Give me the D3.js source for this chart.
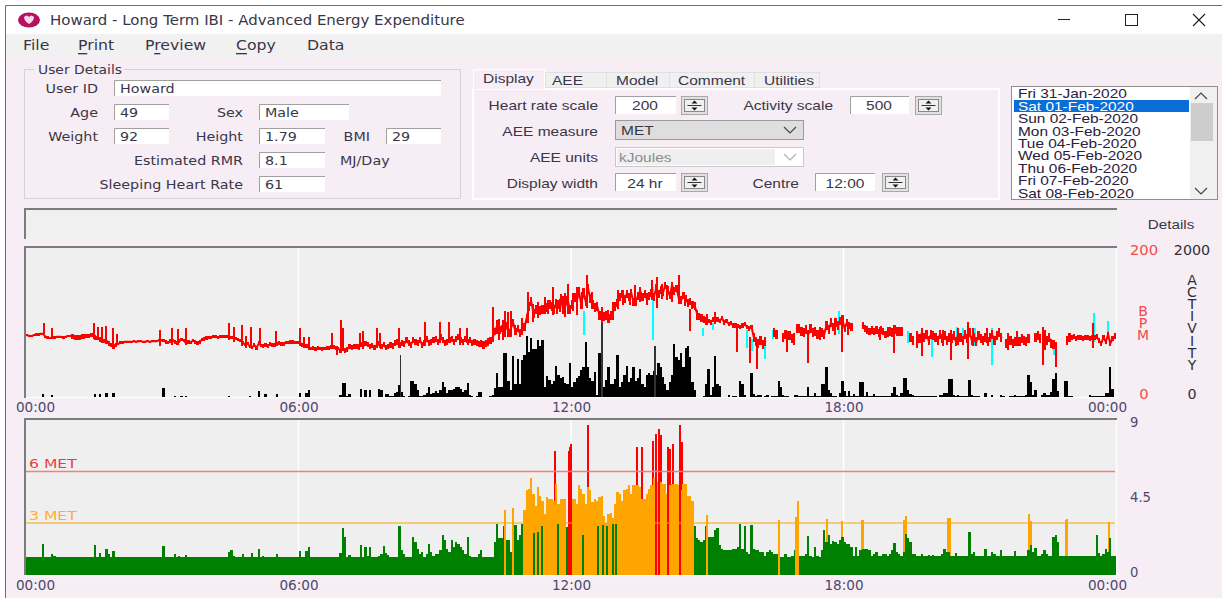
<!DOCTYPE html>
<html>
<head>
<meta charset="utf-8">
<style>
html, body { margin: 0; padding: 0; background: #fff; overflow: hidden; }
svg { display: block; }
</style>
<script src="https://cdn.jsdelivr.net/npm/d3@7"></script>
</head>
<body>
<div class="chart"></div>
<script>
// one value every 3 minutes, one row per hour
const hrValues = [
    83,82,82,83,84,84,85,85,81,80,79,80,80,81,81,81,80,81,82,82,
    81,80,80,80,81,81,82,82,83,83,80,79,77,76,75,74,72,70,68,70,
    71,73,73,74,74,74,74,75,74,75,75,74,74,75,74,75,75,75,76,76,
    76,74,73,75,76,74,72,75,77,76,72,74,73,76,74,72,74,77,78,79,
    80,80,81,81,80,81,81,81,81,81,80,80,78,77,76,73,70,72,68,66,
    70,66,72,69,68,70,68,71,70,70,71,72,71,71,73,73,74,74,73,73,
    74,70,68,68,66,65,66,64,66,65,64,65,66,66,67,67,66,65,62,64,
    62,64,68,66,68,68,67,70,68,72,70,68,69,66,70,72,68,70,66,68,
    70,68,72,74,70,72,71,76,72,70,76,74,72,76,70,72,78,72,74,76,
    78,74,80,76,72,74,76,78,74,78,80,76,74,78,74,76,72,74,72,71,
    72,70,72,74,76,80,88,96,90,92,88,96,86,92,100,88,92,86,88,94,
    106,122,128,112,118,112,116,118,122,120,124,122,118,126,124,132,118,122,130,118,
    124,134,128,142,124,140,128,146,132,124,120,122,110,106,108,110,106,110,116,122,
    126,134,138,132,138,134,140,128,128,136,142,134,138,130,136,140,134,146,138,144,
    140,150,144,136,150,142,146,132,130,136,132,126,128,124,122,112,108,106,104,102,
    102,100,104,102,104,102,106,100,102,98,99,96,96,95,94,96,98,94,92,94,
    80,74,72,76,70,74,null,null,null,86,84,null,null,80,84,82,82,78,null,92,
    92,88,86,90,84,92,86,88,84,88,86,84,96,90,100,94,100,96,102,104,
    92,100,96,94,null,null,null,null,96,92,90,88,90,88,90,86,90,88,84,88,
    88,86,90,88,88,88,null,null,null,80,76,null,80,78,86,80,84,76,84,82,
    80,76,84,78,82,76,80,78,82,74,84,80,76,84,78,86,76,80,74,82,
    78,76,80,74,80,84,76,82,86,80,null,72,72,76,72,74,78,74,78,76,
    74,78,null,null,80,82,78,null,84,76,80,72,70,null,null,null,null,null,76,80,
    80,81,79,80,80,79,80,80,79,80,80,81,76,72,80,74,84,72,78,82
];
// half thickness of the red band in bpm, one value per hour
const hrBand = [1.5,3,1.5,2.5,2,2.5,2.5,3.5,4,4,5,6,6,5.5,5,3,6,6,5,6,6,6,6,3.5];

// [minute, low bpm, high bpm]
const hrSpikes = [
    [24,84,99],[34,80,92],[90,78,100],[95,76,94],[100,76,94],[106,74,95],[115,68,92],[120,70,85],
    [177,68,90],[193,70,92],[201,70,91],[211,70,92],[268,76,99],[275,74,94],[285,68,96],[291,66,82],
    [297,66,94],[309,70,92],[330,72,89],[362,68,92],[367,66,81],[374,66,81],[404,66,86],[411,56,68],
    [416,62,103],[419,62,92],[441,70,86],[445,68,88],[464,66,92],[468,66,86],[493,70,92],[527,72,101],
    [547,72,101],[559,72,101],[573,70,92],[583,72,93],[617,74,121],[625,76,105],[630,76,104],[633,80,116],
    [641,80,116],[663,100,141],[670,101,125],[696,110,148],[712,107,140],[716,112,152],[728,110,148],
    [741,120,164],[834,120,161],[863,125,164],[877,89,118],[939,61,96],[956,45,80],[966,37,78],[1005,61,82],
    [1015,70,86],[1033,46,86],[1078,61,100],[1147,59,88],[1177,66,88],[1184,55,86],[1222,50,90],[1244,51,101],
    [1344,43,94],[1361,40,74],[1410,66,99],
    [622,84,103],[637,88,114],[646,86,97],[655,88,106],[676,108,128],[686,112,134],[690,112,130],[701,112,126],
    [705,114,132],[709,114,135],[723,116,139],[735,118,141],[748,124,141],[754,118,123],[761,104,121],[769,104,117],
    [775,104,128],[782,118,144],[789,124,144],[798,124,137],[805,128,150],[811,128,148],[820,124,139],[827,130,157],
    [840,132,152],[847,130,150],[853,128,146],[871,122,132],[880,118,128],[886,104,112],[900,96,112],[910,98,114],
    [1049,77,92],[1069,83,100],[1086,83,96],[1128,77,94],[1139,81,94],[1211,68,90],[1231,70,92],[1251,68,92],
    [1270,72,92],[1297,63,86],[1309,68,88],[1346,63,90]
];
const hrCyanSpikes = [
    [737,83,115],[828,77,148],[894,82,92],[908,90,100],[953,66,90],[959,62,78],[976,51,72],[987,78,90],
    [1074,84,115],[1165,72,88],[1197,54,80],[1230,74,94],[1238,72,92],[1254,68,92],[1276,43,92],
    [1358,56,72],[1411,74,113],[1429,78,102]
];

const activityValues = [
    0,0,0,0,0,0,0,45,0,0,0,25,0,0,0,0,0,0,0,0,
    0,0,0,0,0,0,0,0,0,0,45,0,45,0,0,55,0,0,55,0,
    0,0,0,0,0,0,0,0,0,0,0,0,0,0,0,0,0,0,0,0,
    120,0,0,0,0,18,0,0,18,0,18,0,0,0,0,0,0,0,0,0,
    0,0,0,0,0,0,0,0,0,18,0,0,0,0,0,0,0,0,18,0,
    0,0,80,0,0,35,0,0,0,0,35,0,0,0,0,0,0,0,0,0,
    55,0,0,55,90,0,0,0,0,0,0,0,0,0,0,0,0,0,25,190,
    190,15,35,0,0,0,0,110,0,95,0,90,0,0,0,110,90,0,35,35,
    15,20,60,70,155,65,20,0,20,220,220,180,90,20,20,25,60,130,40,50,
    85,50,90,200,130,60,95,100,105,130,130,110,70,90,190,30,15,0,10,65,
    65,0,0,0,20,25,120,320,130,140,590,590,220,90,545,180,515,180,490,560,
    820,600,790,650,640,760,680,760,130,280,230,180,215,410,290,260,270,190,170,450,
    130,200,250,280,360,400,740,400,250,220,330,30,590,590,130,230,400,170,180,240,
    560,130,200,290,410,200,250,400,210,250,380,180,130,300,320,300,350,300,455,400,
    270,180,100,200,300,715,540,500,590,400,660,680,540,200,100,0,0,0,20,170,
    380,30,130,550,170,150,0,0,0,25,0,10,15,0,220,170,30,0,0,320,
    40,10,30,30,0,10,30,5,20,20,20,220,130,30,20,15,0,0,30,30,
    10,20,15,15,130,10,10,50,15,20,180,180,400,90,50,15,10,0,60,210,
    80,20,75,20,35,20,15,205,195,20,65,20,15,35,10,15,15,15,20,20,
    20,60,140,30,20,50,260,250,90,40,25,15,10,15,20,20,20,15,15,10,
    15,0,25,30,50,55,245,245,30,15,25,10,10,15,10,230,30,20,20,10,
    0,0,50,5,5,30,5,5,5,30,10,5,5,10,10,25,10,10,10,15,
    30,300,200,30,90,5,5,30,60,30,30,70,245,320,80,5,0,215,215,10,
    10,0,0,0,0,0,0,0,25,20,20,20,20,20,20,60,60,400,110,5
];
const activityPeaks = [[494,570],[760,1040],[830,690]];

const metValues = [
    1,1,1,1,1,1,1,1.75,1,1,1,1.17,1.1,1,1,1,1,1,1,1,
    1,1,1,1,1,1,1,1,1,1,1.7,1,1.28,1,1,1.5,1.2,1,1.36,1,
    1,1,1,1,1,1,1,1,1,1,1,1,1,1,1,1,1,1,1,1,
    1.67,1,1,1,1,1.17,1,1.07,1,1,1.13,1,1,1,1,1,1,1,1,1,
    1,1,1,1,1,1,1,1,1,1.3,1.42,1.1,1,1,1,1.2,1,1,1,1.28,
    1,1,1.5,1,1.07,1,1,1,1,1,1.2,1,1,1,1,1,1,1,1,1,
    1.36,1,1,1.36,1.6,1,1,1,1,1,1,1,1,1,1,1,1,1,1.28,2.68,
    2.2,1,1.13,1,1,1,1,1.7,1,1.6,1.1,1.6,1,1,1,1.1,1.2,1.67,1.28,1.13,
    1,1,1,1,2.8,1.42,1.2,1.03,1,1,2.2,1.9,1.5,1.2,1.3,1,1.2,1.8,1.3,1.1,
    1.2,1.2,1.4,2.3,2,1.5,1.3,2,1.6,1.9,1.8,1.6,1.4,1.2,2.2,1.1,1,1,1,1.2,
    1.4,1,1,1,1,1,1.9,2.95,2.1,2.1,2.8,2,2,1.3,2.2,2.87,2,2.3,2.95,3.75,
    4.9,5,5.6,4.7,4,5.1,4.6,4.3,3.5,4.5,4.4,4.4,4.3,5.3,4.1,4.4,4.4,4.4,2.75,4.4,
    4.4,4.4,4.1,5.2,5,4.7,4.1,5.1,4.9,4.2,4.4,4.3,4.5,4.6,3.4,3,3.5,3.6,3.3,4.1,
    4.8,4.7,4.3,4.9,5,5.2,4.7,5.2,5.2,5.2,5.1,4.4,4.4,4.7,5,5.2,5.6,5.5,5.4,5.4,
    5.3,5.3,4.7,5.2,5.3,5.3,5.3,5.2,4.9,5.3,5.3,4.6,4.6,4.3,2.8,2.1,2,1.9,2,2.8,
    2.2,2.2,2.2,2.6,2.7,1.7,1.5,1.4,1.4,1.4,1.4,1.5,1.5,1.6,2.95,1.5,2.8,1.3,1.2,2.9,
    1.5,1.4,1.4,1.3,1.3,1.1,1.3,1.4,1.3,1.2,1.2,1.1,1,1,1.2,1,1,1.1,1.4,1.8,
    1.1,1.05,1.1,1.2,2.25,1.05,1,1.6,1.05,1,1.4,2.6,1.9,2.3,1.8,1.95,1.9,1.8,2,2.2,
    1.9,1.8,1.8,1.6,1.05,1.6,1.05,1.4,1.5,1.5,1.5,1.4,1.1,1.2,1.3,1.1,1.05,1.2,1.2,1.05,
    1.2,1.4,1.85,1.3,1.2,1.05,1.3,2.35,2.1,1.9,1.2,1.2,1.1,1.05,1.2,1.05,1.1,1.15,1.05,1.15,
    1.05,1.05,1.1,1.2,1.5,1.3,1.3,1.05,1.05,1.25,1.05,1.1,1.1,1.1,1.05,2.45,1.2,1.3,1.1,1.05,
    1.05,1.05,1.48,1.05,1.05,1.3,1.2,1.05,1.05,1.4,1.1,1.05,1.05,1.1,1.05,1.35,1.05,1.1,1.1,1.1,
    1.1,1.4,1.7,1.3,1.55,1.05,1.05,1.2,1.4,1.2,1.1,1.05,2.2,2.3,1.9,1.1,1.05,1.05,1.1,1.05,
    1.1,1.05,1.05,1.05,1.05,1.05,1.05,1.05,1.1,1.05,1.05,2.3,1.25,1.05,1.2,1.5,1.3,2.15,1.1,1.05
];

// thin samples hidden behind the bars, only the part above shows
const metPeaksBehind = [
    [697,7.2],[741,8.7],[741,6],[806,7.4],[813,7.4],[827,7.8],[838,8.1],[847,7.4],[850,7.3],[853,7.6],[865,7.7],
    [1057,3.26],[1077,3.1],[1103,3.2],[1104,3.15],[1159,3.2],[1161,3.38],[1217,3.3],[1219,3.3],
    [1324,3.5],[1326,3.1],[1373,3.17],[1374,3.26],[1429,3.03]
];
// thin samples drawn over the bars, full height
const metPeaksFront = [
    [670,2.4],[675,2.5],[680,2.85],[701,2.95],[714,2.75],[735,2.3],[754,2.8],[761,2.9],[766,2.8],[774,2.95],[778,2.95],
    [632,3.75],[642,3.9],[899,3.46],[994,3.2],[1016,3.36],[1018,4.3],
    [716,7.2],[718,7.4],[719,7.6],[831,8.2],[835,8.5],[847,7],[863,8.7]
];

const metLevels = [6, 3];
const metLevelLabels = ['6 MET', '3 MET'];
const timeTicks = [0, 360, 720, 1080, 1440];
const timeLabels = ['00:00', '06:00', '12:00', '18:00', '00:00'];
const hrTicks = [200, 0];
const activityTicks = [2000, 0];
const metTicks = [9, 4.5, 0];
const dates = ['Fri 31-Jan-2020', 'Sat 01-Feb-2020', 'Sun 02-Feb-2020', 'Mon 03-Feb-2020', 'Tue 04-Feb-2020',
    'Wed 05-Feb-2020', 'Thu 06-Feb-2020', 'Fri 07-Feb-2020', 'Sat 08-Feb-2020'];

const width = 1222;
const height = 598;
const pink = '#f7eef5';
const panel = '#efefef';
const ink = '#3a3648';
const labelFont = '"DejaVu Sans", sans-serif';
const tabFont = '"Liberation Sans", sans-serif';

const svg = d3.select('.chart').append('svg')
    .attr('width', width)
    .attr('height', height)
    .attr('viewBox', [0, 0, width, height]);

function box(x, y, w, h, fill, stroke) {
    return svg.append('rect').attr('x', x).attr('y', y).attr('width', w).attr('height', h)
        .attr('fill', fill).attr('stroke', stroke || 'none')
        .attr('shape-rendering', 'crispEdges');
}

// the source screenshot is stretched sideways, sx widens the glyphs to match
function stretch(t, sx) {
    const len = t.node().getComputedTextLength();
    t.attr('textLength', len * sx).attr('lengthAdjust', 'spacingAndGlyphs');
    return t;
}

function txt(x, y, s, o) {
    o = o || {};
    const t = svg.append('text').attr('x', x).attr('y', y).text(s)
        .attr('dominant-baseline', 'central')
        .attr('text-anchor', o.anchor || 'start')
        .attr('font-family', o.font || labelFont)
        .attr('font-size', o.size || 13)
        .attr('fill', o.fill || ink);
    return s === '' ? t : stretch(t, o.sx || 1.1);
}

function field(x, y, w, h, s, o) {
    box(x, y, w, h, '#fff');
    svg.append('path').attr('d', `M${x + .5},${y + h}V${y + .5}H${x + w}`)
        .attr('fill', 'none').attr('stroke', '#a0a0a0');
    txt(x + 6, y + h / 2, s, o);
}

function spinner(x, y) {
    box(x, y, 26, 18, '#e1e1e1', '#a8a8a8');
    box(x + 3, y + 3, 20, 12, '#f0f0f0', '#888');
    svg.append('path').attr('d', `M${x + 13},${y + 4}l-3,3h6z M${x + 13},${y + 14}l-3,-3h6z`).attr('fill', '#111');
    svg.append('line').attr('x1', x + 6).attr('x2', x + 20).attr('y1', y + 9).attr('y2', y + 9).attr('stroke', '#333');
}

function chevron(cx, cy, col, up) {
    const d = up ? -1 : 1;
    svg.append('path').attr('d', `M${cx - 6},${cy - 3 * d}l6,${6 * d}l6,${-6 * d}`)
        .attr('fill', 'none').attr('stroke', col).attr('stroke-width', 1.2);
}

// letters stacked one above the other, as a single text
function stackedText(cx, top, s, fill, spacing) {
    svg.append('text').text(s)
        .attr('x', cx).attr('y', top)
        .attr('font-family', labelFont).attr('font-size', 14).attr('fill', fill)
        .style('writing-mode', 'vertical-rl')
        .style('text-orientation', 'upright')
        .style('letter-spacing', spacing + 'px');
}

// window frame
box(5, 5, width - 5, height - 5, pink);
svg.append('path').attr('d', `M5.5,${height}V5.5H${width}`).attr('fill', 'none').attr('stroke', '#6e6e6e');
box(6, 6, width - 6, 28, '#fff');
box(6, 34, width - 6, 23, '#f1f1f1');

svg.append('ellipse').attr('cx', 29).attr('cy', 20).attr('rx', 11).attr('ry', 7.5).attr('fill', '#b8105f');
svg.append('path').attr('d', 'M24,17q3,-3 5,0q2,-3 5,0q0,4 -5,7q-5,-3 -5,-7z').attr('fill', '#fbd9e8');
txt(50, 20, 'Howard - Long Term IBI - Advanced Energy Expenditure', { size: 13.4, sx: 1.118 });

box(1058, 19, 12, 1, '#222');
box(1125.5, 14.5, 12, 11, 'none', '#222');
svg.append('path').attr('d', 'M1193,14l12,12M1205,14l-12,12').attr('stroke', '#222').attr('stroke-width', 1.2);

[['File', 23, -1], ['Print', 78, 0], ['Preview', 145, 1], ['Copy', 236, 0], ['Data', 307, -1]].forEach(m => {
    const t = txt(m[1], 45, '', { size: 13.2 });
    Array.from(m[0]).forEach((c, i) => {
        t.append('tspan').text(c).attr('text-decoration', i === m[2] ? 'underline' : 'none');
    });
    stretch(t, 1.19);
});

// user details group
box(24.5, 69.5, 436, 129, 'none', '#d8d2d8');
box(34, 62, 90, 14, pink);
txt(38, 69, 'User Details', { size: 12.6 });
const lab = (x, y, s) => txt(x, y, s, { anchor: 'end' });
lab(98, 88, 'User ID');
field(114, 80, 327, 16, 'Howard');
lab(98, 112, 'Age');
field(114, 104, 55, 16, '49');
lab(243, 112, 'Sex');
field(259, 104, 90, 16, 'Male');
lab(98, 136, 'Weight');
field(114, 128, 55, 16, '92');
lab(243, 136, 'Height');
field(259, 128, 66, 16, '1.79');
lab(370, 136, 'BMI');
field(386, 128, 55, 16, '29');
lab(243, 160, 'Estimated RMR');
field(259, 152, 66, 16, '8.1');
txt(340, 160, 'MJ/Day');
lab(243, 184, 'Sleeping Heart Rate');
field(259, 176, 66, 16, '61');

// tabs
const tf = { font: tabFont, size: 13.6, sx: 1.14 };
const tabLab = (x, y, s) => txt(x, y, s, { font: tabFont, size: 13.6, sx: 1.14, anchor: 'end' });
const tabVal = (x, y, s) => txt(x, y, s, { font: tabFont, size: 13.6, sx: 1.14, anchor: 'middle' });
box(472.5, 88.5, 526, 110, pink, '#fff').attr('stroke-width', 2);
[['AEE', 545, 61, 552], ['Model', 606, 63, 616], ['Comment', 669, 85, 678], ['Utilities', 754, 65, 764]].forEach(t => {
    box(t[1] + .5, 72.5, t[2], 15, '#f0f0f0', '#e0e0e0');
    txt(t[3], 80, t[0], tf);
});
box(473, 69, 72, 20, pink);
svg.append('path').attr('d', 'M473.5,88V69.5H544.5V88').attr('fill', 'none').attr('stroke', '#fff');
txt(483, 78, 'Display', tf);

tabLab(598, 105, 'Heart rate scale');
field(615, 96, 61, 18, '');
tabVal(645, 105, '200');
spinner(681.5, 96.5);
tabLab(833, 105, 'Activity scale');
field(850, 96, 59, 18, '');
tabVal(879, 105, '500');
spinner(915.5, 96.5);

tabLab(598, 131, 'AEE measure');
box(615.5, 120.5, 188, 19, '#dedede', '#9a9a9a');
txt(621, 130, 'MET', tf);
chevron(790, 130, '#444');

tabLab(598, 157, 'AEE units');
box(615.5, 147.5, 188, 19, '#fff', '#c8c8c8');
box(617, 149, 158, 16, '#efefef');
txt(619, 157, 'kJoules', { font: tabFont, size: 13.6, sx: 1.14, fill: '#8c8c8c' });
chevron(790, 157, '#b0b0b0');

tabLab(598, 183, 'Display width');
field(615, 173, 61, 18, '');
tabVal(645, 183, '24 hr');
spinner(681.5, 173.5);
tabLab(799, 183, 'Centre');
field(815, 173, 60, 18, '');
tabVal(845, 183, '12:00');
spinner(882.5, 173.5);

// date list, one text with a line per date
box(1011.5, 86.5, 206, 113, '#fff', '#8f8f8f');
box(1014, 100, 175, 12, '#0a6ed8');
const dateText = svg.append('text')
    .attr('transform', 'translate(1018,0) scale(1.135,1)')
    .attr('font-family', tabFont).attr('font-size', 13.6);
dates.forEach((d, i) => {
    dateText.append('tspan').text(d)
        .attr('x', 0).attr('y', 98.5 + i * 12.4)
        .attr('fill', i === 1 ? '#fff' : '#2a2040');
});
box(1190, 87, 27, 112, '#f0f0f0');
box(1191, 103, 22, 38, '#cdcdcd');
chevron(1201, 96, '#444', true);
chevron(1201, 191, '#444');

// status strip
box(24, 208, 1093, 31, '#f0f0f0');
svg.append('path').attr('d', 'M25,239V209H1117').attr('fill', 'none').attr('stroke', '#7c7c7c').attr('stroke-width', 2);
txt(1171, 224, 'Details', { font: tabFont, size: 13.6, sx: 1.12, anchor: 'middle' });

// chart scales
const x = d3.scaleLinear().domain([0, 1440]).range([26, 1116]);
const yHr = d3.scaleLinear().domain([0, 200]).range([397, 248]);
const yActivity = d3.scaleLinear().domain([0, 2000]).range([397, 248]);
const yMet = d3.scaleLinear().domain([0, 9]).range([574.5, 420]);
const metColor = d3.scaleThreshold().domain([3, 6]).range(['#008000', '#ffa500', '#ff0000']);
const step = x(3) - x(0);

function drawFrame(top, bottom) {
    box(25, top, 1092, bottom - top, panel);
    svg.append('path').attr('d', `M1116.5,${top}V${bottom + .5}H25`).attr('fill', 'none').attr('stroke', '#fcfcfc').attr('stroke-width', 1.5);
    svg.selectAll(null).data(timeTicks.slice(1, 4)).join('line')
        .attr('x1', d => x(d)).attr('x2', d => x(d))
        .attr('y1', top).attr('y2', bottom)
        .attr('stroke', '#fff').attr('stroke-width', 1.5);
}

function drawTimeAxis(y) {
    const axis = d3.axisBottom(x).tickValues(timeTicks).tickSize(0).tickPadding(0)
        .tickFormat((d, i) => timeLabels[i]);
    const g = svg.append('g').attr('transform', `translate(0,${y})`).call(axis);
    g.select('.domain').remove();
    g.selectAll('text')
        .attr('font-family', labelFont).attr('font-size', 13.6).attr('fill', '#4c4a6c')
        .attr('dy', 0).attr('dominant-baseline', 'central')
        .attr('dx', (d, i) => i === 0 ? 9 : i === 4 ? -9 : 0);
}

function frameBorder(top, bottom) {
    svg.append('path').attr('d', `M25,${bottom}V${top}H1117`)
        .attr('fill', 'none').attr('stroke', '#7c7c7c').attr('stroke-width', 2);
}

function bars(data, yScale, base, w, color) {
    svg.append('g').attr('shape-rendering', 'crispEdges').selectAll('rect')
        .data(data).join('rect')
        .attr('x', d => x(d[0]))
        .attr('width', w)
        .attr('y', d => yScale(d[1]))
        .attr('height', d => Math.max(0, base - yScale(d[1])))
        .attr('fill', color);
}

// heart rate and activity panel
drawFrame(247, 397);

bars(activityValues.map((v, i) => [i * 3, v]).filter(d => d[1] > 0), yActivity, yActivity(0), step, '#000');
bars(activityPeaks, yActivity, yActivity(0), 1.5, '#333');

function spikes(list, color) {
    svg.append('g').attr('shape-rendering', 'crispEdges').selectAll('line').data(list).join('line')
        .attr('x1', d => x(d[0])).attr('x2', d => x(d[0]))
        .attr('y1', d => yHr(d[1])).attr('y2', d => yHr(d[2]))
        .attr('stroke', color).attr('stroke-width', 2);
}
spikes(hrCyanSpikes, '#00ffff');
spikes(hrSpikes, '#ff0000');

// thickness of the trace, read hour by hour
svg.append('g').attr('shape-rendering', 'crispEdges').selectAll('rect')
    .data(hrValues.map((v, i) => [i, v]).filter(d => d[1] !== null)).join('rect')
    .attr('x', d => x(d[0] * 3))
    .attr('width', step)
    .attr('y', d => yHr(d[1] + hrBand[Math.floor(d[0] / 20)]))
    .attr('height', d => yHr(d[1] - hrBand[Math.floor(d[0] / 20)]) - yHr(d[1] + hrBand[Math.floor(d[0] / 20)]))
    .attr('fill', '#ff0000');

const hrLine = d3.line()
    .defined(d => d !== null)
    .x((d, i) => x(i * 3 + 1.5))
    .y(d => yHr(d));
svg.append('path').datum(hrValues)
    .attr('d', hrLine)
    .attr('fill', 'none')
    .attr('stroke', '#ff0000')
    .attr('stroke-width', 2)
    .attr('stroke-linecap', 'square');

frameBorder(247, 398);
drawTimeAxis(407);

hrTicks.forEach(d => {
    txt(1144, d === 0 ? 394 : 250, d, { anchor: 'middle', fill: '#f04a4a', size: 13.2, sx: 1.12 });
});
activityTicks.forEach(d => {
    txt(1192, d === 0 ? 394 : 250, d, { anchor: 'middle', fill: '#2e2e3a', size: 13.2, sx: 1.08 });
});
stackedText(1143, 303, 'BPM', '#f04a4a', -3.8);
stackedText(1192, 272, 'ACTIVITY', '#2e2e3a', -3.9);

// MET panel
drawFrame(419, 575);
bars(metPeaksBehind, yMet, yMet(0), 2, d => metColor(d[1]));
bars(metValues.map((v, i) => [i * 3, v]), yMet, yMet(0), step, d => metColor(d[1]));
bars(metPeaksFront, yMet, yMet(0), 2, d => metColor(d[1]));

svg.append('g').selectAll('line').data(metLevels).join('line')
    .attr('x1', 26).attr('x2', 1115)
    .attr('y1', d => yMet(d)).attr('y2', d => yMet(d))
    .attr('stroke', d => d === 6 ? '#f87c7c' : '#ffa500')
    .attr('stroke-width', d => d === 6 ? 1.6 : 1);
metLevels.forEach((d, i) => {
    txt(29, yMet(d) - 8, metLevelLabels[i], { fill: d === 6 ? '#f03c3c' : '#ffad33', size: 13, sx: 1.2 });
});

frameBorder(419, 575);
drawTimeAxis(585);

const yAxisMet = svg.append('g').attr('transform', 'translate(1130,0)')
    .call(d3.axisRight(yMet).tickValues(metTicks).tickSize(0).tickPadding(0).tickFormat(d => d));
yAxisMet.select('.domain').remove();
yAxisMet.selectAll('text')
    .attr('font-family', labelFont).attr('font-size', 13.2).attr('fill', '#4c4a6c')
    .attr('dy', 0).attr('dominant-baseline', 'central')
    .attr('y', d => d === 9 ? 2 : d === 0 ? -2.5 : 0);
</script>
</body>
</html>
